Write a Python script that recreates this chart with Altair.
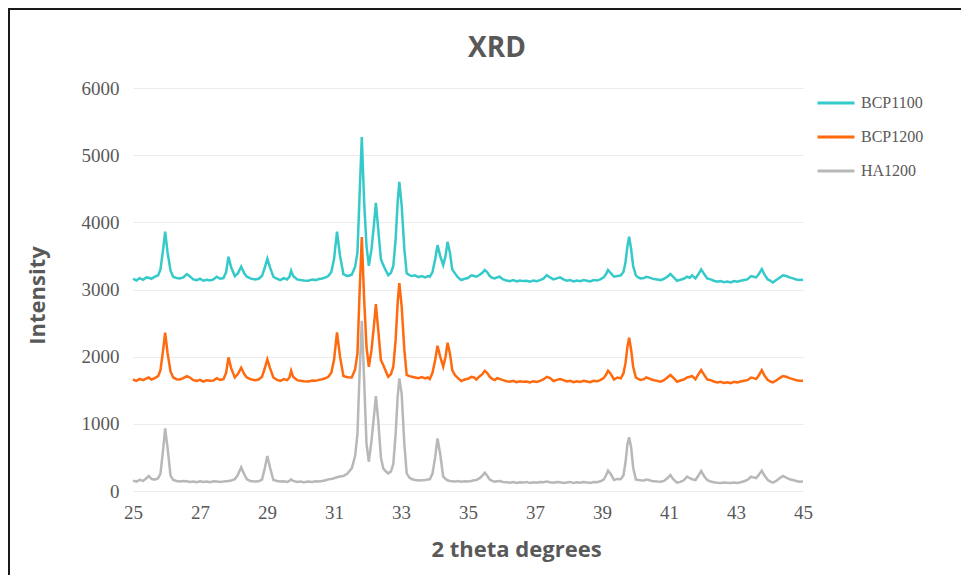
import altair as alt
import pandas as pd

angles = [
    25.00, 25.10, 25.20, 25.30, 25.40, 25.47, 25.55, 25.65, 25.75, 25.82,
    25.90, 25.96, 26.03, 26.12, 26.20, 26.30, 26.40, 26.50, 26.61, 26.70,
    26.80, 26.90, 27.00, 27.10, 27.20, 27.30, 27.40, 27.50, 27.60, 27.70,
    27.78, 27.85, 27.93, 28.04, 28.13, 28.23, 28.32, 28.40, 28.50, 28.64,
    28.75, 28.85, 28.93, 29.01, 29.09, 29.19, 29.30, 29.40, 29.50, 29.60,
    29.67, 29.72, 29.78, 29.90, 30.00, 30.10, 30.24, 30.35, 30.45, 30.55,
    30.65, 30.75, 30.83, 30.92, 31.00, 31.09, 31.18, 31.28, 31.40, 31.53,
    31.63, 31.70, 31.76, 31.83, 31.90, 31.97, 32.04, 32.12, 32.19, 32.25,
    32.32, 32.40, 32.47, 32.55, 32.62, 32.70, 32.77, 32.84, 32.90, 32.95,
    33.02, 33.10, 33.17, 33.25, 33.33, 33.42, 33.52, 33.62, 33.72, 33.80,
    33.86, 33.94, 34.02, 34.09, 34.17, 34.26, 34.33, 34.39, 34.46, 34.53,
    34.61, 34.70, 34.80, 34.90, 35.00, 35.10, 35.18, 35.25, 35.35, 35.43,
    35.50, 35.57, 35.65, 35.72, 35.80, 35.87, 35.94, 36.05, 36.15, 36.25,
    36.35, 36.45, 36.55, 36.65, 36.75, 36.85, 36.95, 37.05, 37.15, 37.25,
    37.35, 37.45, 37.55, 37.65, 37.75, 37.85, 37.95, 38.05, 38.15, 38.25,
    38.35, 38.45, 38.55, 38.65, 38.75, 38.85, 38.95, 39.05, 39.12, 39.18,
    39.25, 39.36, 39.46, 39.56, 39.64, 39.70, 39.76, 39.81, 39.87, 39.93,
    40.01, 40.08, 40.15, 40.25, 40.32, 40.40, 40.48, 40.56, 40.65, 40.75,
    40.85, 40.95, 41.04, 41.12, 41.24, 41.34, 41.44, 41.54, 41.62, 41.69,
    41.79, 41.88, 41.96, 42.05, 42.14, 42.24, 42.34, 42.44, 42.54, 42.64,
    42.74, 42.84, 42.94, 43.04, 43.14, 43.24, 43.34, 43.45, 43.53, 43.60,
    43.68, 43.77, 43.85, 43.95, 44.03, 44.10, 44.20, 44.30, 44.40, 44.50,
    44.60, 44.70, 44.80, 44.90, 45.00,
]

bcp1100 = [
    3160, 3135, 3170, 3145, 3180, 3175, 3160, 3190, 3210, 3300,
    3600, 3860, 3560, 3280, 3190, 3170, 3165, 3180, 3230, 3195,
    3150, 3140, 3160, 3130, 3145, 3135, 3150, 3190, 3160, 3170,
    3260, 3487, 3330, 3200, 3240, 3340, 3240, 3190, 3165, 3150,
    3160, 3200, 3320, 3460, 3330, 3190, 3160, 3140, 3170, 3150,
    3190, 3280, 3200, 3150, 3140, 3135, 3130, 3150, 3140, 3155,
    3165, 3180, 3200, 3260, 3450, 3860, 3500, 3230, 3200, 3220,
    3340, 3550, 4350, 5270, 4300, 3650, 3353, 3600, 3950, 4290,
    3900, 3450, 3363, 3280, 3214, 3250, 3350, 3750, 4300, 4603,
    4250, 3600, 3240, 3215, 3200, 3210, 3185, 3200, 3180, 3200,
    3190, 3260, 3450, 3660, 3500, 3363, 3500, 3710, 3550, 3300,
    3240, 3180, 3140, 3160, 3170, 3210, 3200, 3190, 3220, 3250,
    3290, 3260, 3200, 3175, 3165, 3180, 3190, 3150, 3135, 3125,
    3140, 3120, 3135, 3125, 3130, 3115, 3135, 3125, 3140, 3160,
    3214, 3180, 3150, 3165, 3180, 3150, 3130, 3140, 3120, 3135,
    3125, 3140, 3130, 3120, 3140, 3135, 3150, 3180, 3230, 3290,
    3250, 3190, 3200, 3210, 3260, 3400, 3650, 3785, 3600, 3350,
    3210, 3180, 3165, 3170, 3190, 3180, 3165, 3155, 3150, 3140,
    3160, 3190, 3230, 3190, 3130, 3145, 3160, 3190, 3175, 3210,
    3165, 3230, 3300, 3230, 3165, 3150, 3130, 3115, 3125, 3110,
    3120, 3105, 3125, 3115, 3130, 3140, 3150, 3200, 3190, 3180,
    3230, 3304, 3220, 3150, 3130, 3105, 3140, 3175, 3210, 3200,
    3180, 3165, 3150, 3140, 3145,
]

bcp1200 = [
    1660, 1640, 1670, 1650, 1675, 1690, 1660, 1680, 1710, 1800,
    2100, 2356, 2060, 1780, 1690, 1665, 1660, 1680, 1711, 1690,
    1650, 1640, 1655, 1630, 1650, 1640, 1645, 1680, 1655, 1665,
    1760, 1990, 1830, 1690, 1740, 1835, 1740, 1690, 1665, 1650,
    1660, 1700, 1820, 1960, 1830, 1690, 1655, 1640, 1665, 1650,
    1690, 1790, 1700, 1650, 1640, 1635, 1630, 1645, 1640, 1655,
    1665, 1680, 1700, 1760, 1950, 2360, 2000, 1711, 1695, 1690,
    1810, 2050, 2900, 3780, 2850, 2150, 1850, 2100, 2450, 2783,
    2400, 1950, 1875, 1780, 1700, 1740, 1850, 2250, 2800, 3095,
    2750, 2100, 1727, 1710, 1700, 1690, 1680, 1695, 1675, 1690,
    1666, 1760, 1950, 2163, 2000, 1850, 2000, 2207, 2050, 1800,
    1727, 1680, 1637, 1660, 1670, 1700, 1690, 1660, 1710, 1740,
    1790, 1760, 1700, 1670, 1652, 1680, 1670, 1650, 1635, 1627,
    1640, 1620, 1635, 1625, 1630, 1615, 1635, 1625, 1640, 1660,
    1700, 1680, 1637, 1655, 1666, 1650, 1630, 1640, 1620, 1635,
    1625, 1640, 1630, 1620, 1640, 1635, 1650, 1680, 1730, 1790,
    1750, 1660, 1690, 1677, 1750, 1900, 2150, 2282, 2100, 1850,
    1690, 1670, 1652, 1665, 1690, 1677, 1660, 1650, 1640, 1627,
    1650, 1690, 1727, 1690, 1627, 1645, 1660, 1690, 1700, 1711,
    1665, 1740, 1800, 1730, 1660, 1650, 1630, 1617, 1625, 1610,
    1620, 1605, 1625, 1615, 1630, 1640, 1650, 1690, 1680, 1666,
    1720, 1800, 1720, 1652, 1630, 1617, 1645, 1680, 1711, 1700,
    1680, 1666, 1650, 1642, 1640,
]

ha1200 = [
    154, 140, 165, 150, 190, 223, 180, 170, 190, 260,
    620, 933, 650, 230, 165, 150, 140, 150, 145, 135,
    140, 130, 145, 135, 140, 130, 145, 140, 135, 140,
    145, 150, 155, 175, 240, 352, 250, 173, 150, 140,
    145, 170, 330, 521, 350, 164, 150, 140, 145, 135,
    150, 173, 150, 135, 140, 130, 140, 135, 145, 140,
    150, 160, 173, 180, 190, 205, 215, 223, 260, 337,
    520, 850, 1700, 2535, 1650, 700, 436, 750, 1100, 1413,
    1050, 500, 337, 290, 263, 290, 400, 850, 1400, 1677,
    1450, 700, 263, 200, 175, 164, 155, 160, 165, 170,
    173, 260, 500, 784, 550, 213, 180, 160, 150, 145,
    140, 150, 138, 145, 140, 150, 160, 165, 190, 230,
    273, 230, 170, 150, 138, 145, 150, 135, 130, 124,
    135, 120, 130, 125, 135, 118, 130, 124, 135, 130,
    140, 130, 124, 135, 130, 120, 128, 135, 118, 130,
    124, 135, 128, 120, 135, 130, 145, 170, 230, 303,
    260, 164, 180, 175, 230, 420, 700, 799, 650, 350,
    173, 165, 160, 155, 170, 164, 150, 145, 140, 138,
    150, 190, 238, 180, 124, 135, 160, 213, 190, 175,
    164, 230, 298, 220, 164, 140, 130, 124, 120, 128,
    122, 118, 125, 120, 130, 145, 165, 213, 200, 193,
    240, 303, 230, 164, 140, 124, 150, 190, 223, 200,
    175, 164, 150, 138, 140,
]

series_names = ["BCP1100", "BCP1200", "HA1200"]
series_colors = ["#36C9C9", "#FF6A0E", "#B8B8B8"]
x_ticks = [25, 27, 29, 31, 33, 35, 37, 39, 41, 43, 45]
y_ticks = [0, 1000, 2000, 3000, 4000, 5000, 6000]

rows = []
for name, vals in zip(series_names, [bcp1100, bcp1200, ha1200]):
    n = min(len(angles), len(vals))
    for a, v in zip(angles[:n], vals[:n]):
        rows.append({"angle": a, "intensity": v, "series": name})
df = pd.DataFrame(rows)

label_font = "Liberation Serif"
head_font = "Open Sans"
gray = "#595959"

lines = alt.Chart(df).mark_line(strokeWidth=2.5).encode(
    x=alt.X("angle:Q",
            scale=alt.Scale(domain=[25, 45], nice=False, zero=False),
            axis=alt.Axis(values=x_ticks, title="2 theta degrees", grid=False,
                          domain=False, ticks=False, labelFont=label_font,
                          labelFontSize=19, labelColor=gray, labelPadding=12,
                          labelFlush=False, format="d",
                          titleFont=head_font, titleFontSize=22, titleFontWeight="bold",
                          titleColor=gray, titleX=383, titleY=48)),
    y=alt.Y("intensity:Q",
            scale=alt.Scale(domain=[0, 6000], nice=False),
            axis=alt.Axis(values=y_ticks, title="Intensity", grid=True, format="d",
                          gridColor="#EBEBEB", gridWidth=1, domain=False, ticks=False,
                          labelFlush=False,
                          labelFont=label_font, labelFontSize=19, labelColor=gray,
                          labelPadding=14, titleFont=head_font, titleFontSize=22,
                          titleFontWeight="bold", titleColor=gray,
                          titleX=-84, titleY=207)),
    color=alt.Color("series:N",
                    scale=alt.Scale(domain=series_names, range=series_colors),
                    legend=alt.Legend(title=None, orient="none", legendX=683, legendY=-5,
                                      symbolType="stroke", symbolSize=1369,
                                      symbolStrokeWidth=3, labelFont=label_font,
                                      labelFontSize=16, labelColor=gray, labelOffset=5,
                                      rowPadding=6)),
)

frame = alt.Chart(pd.DataFrame({"k": [0]})).mark_rect(
    fill=None, stroke="#1a1a1a", strokeWidth=2
).encode(
    x=alt.value(-124), y=alt.value(-79), x2=alt.value(1100), y2=alt.value(700)
)

chart = alt.layer(frame, lines).properties(
    width=670, height=403,
    padding={"left": 125, "top": 80, "right": 158, "bottom": 84},
    autosize=alt.AutoSizeParams(type="none"),
    title=alt.Title("XRD", font=head_font, fontSize=28, fontWeight="bold",
                    color=gray, anchor="middle", dx=29, dy=75, offset=20),
).configure_view(stroke=None)

chart.save("out.html", embed_options={"renderer": "svg", "actions": False})
